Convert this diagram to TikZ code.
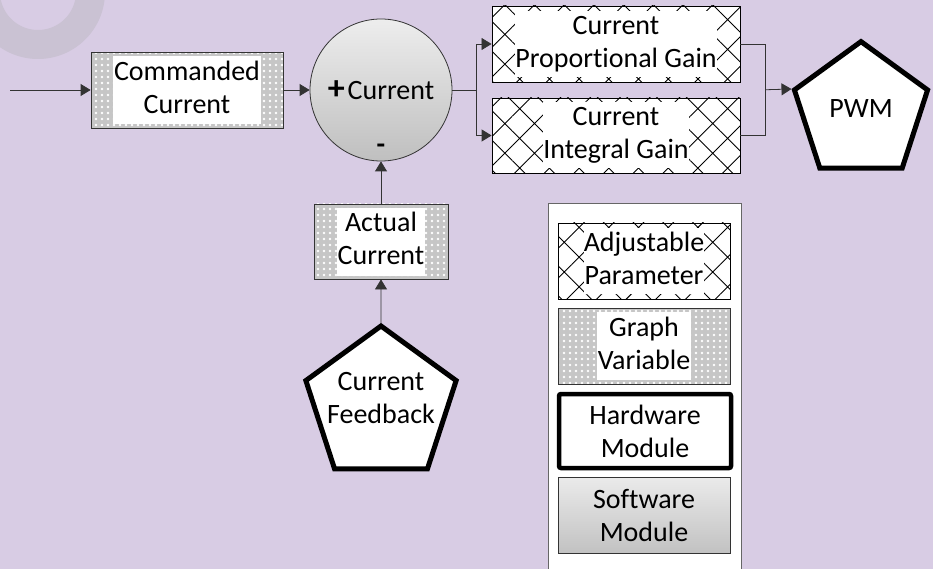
\documentclass[tikz,border=0pt]{standalone}
\usepackage{fontspec}
\setmainfont{Carlito}[Ligatures=NoCommon]
\usepackage{tikz}
\usetikzlibrary{
  calc,              % join point of the two gains
  shapes.geometric,  % pentagons for hardware
  patterns.meta,     % dotted and crossed fillings
  arrows.meta
}
\definecolor{bgcol}{HTML}{D8CCE4}
\definecolor{ringcol}{HTML}{CAC2D3}
\definecolor{gvgray}{HTML}{C6C6C6}
\definecolor{linecol}{HTML}{333333}

% white patch behind the text of a box
\newcommand\gvtext[1]{{\setlength\fboxsep{1pt}\colorbox{white}{\begin{tabular}{@{}c@{}}#1\end{tabular}}}}
\newcommand\adjtext[1]{{\setlength\fboxsep{0pt}\colorbox{white}{\begin{tabular}{@{}c@{}}#1\end{tabular}}}}

\tikzset{
  line/.style={draw=linecol, line width=0.8pt},
  arr/.style={line, -{Triangle[length=10pt,width=12pt]}},
  gvbox/.style={draw=linecol, line width=0.8pt, preaction={fill=gvgray},
    pattern={Dots[radius=1.3pt,distance=6pt]}, pattern color=white,
    minimum width=#1, minimum height=76pt, inner sep=0pt, align=center},
  gvbox/.default=172pt,
  adjbox/.style={draw=black, line width=0.8pt, preaction={fill=white},
    pattern={Hatch[angle=45,distance=21pt,line width=0.9pt]}, pattern color=black,
    minimum width=#1, minimum height=76pt, inner sep=0pt, align=center},
  adjbox/.default=172pt,
  hwbox/.style={draw=black, line width=4.5pt, fill=white, rounded corners=2pt,
    minimum width=172pt, minimum height=74pt, align=center},
  swbox/.style={draw=linecol, line width=0.8pt, top color=black!8, bottom color=black!24,
    minimum width=172pt, minimum height=76pt, align=center},
  hwpent/.style={regular polygon, regular polygon sides=5, draw=black, line width=5pt,
    fill=white, minimum size=#1, inner sep=-30pt, align=center},
}

\begin{document}
\begin{tikzpicture}[x=1pt, y=-1pt, font=\fontsize{28}{33}\selectfont]
  \useasboundingbox (0,0) rectangle (933,569);
  \fill[bgcol] (0,0) rectangle (933,569);
  \fill[ringcol, even odd rule] (38,-8) circle (67pt) (38,-8) circle (38pt);

  % control loop
  \coordinate (in) at (10,90);
  \node[gvbox=192pt] (cmd) at (187,90) {\gvtext{Commanded\\Current}};
  \node[circle, draw=linecol, line width=0.8pt, top color=black!7, bottom color=black!25,
    minimum size=142pt, inner sep=0pt] (sum) at (381,90)
    {{\bfseries\fontsize{34}{33}\selectfont+}\hspace{3pt}Current\hspace{12pt}};
  \node (minus) at ([yshift=13pt]sum.south) {\bfseries -};
  \node[adjbox=248pt] (prop) at (616,44) {\adjtext{Current\\Proportional Gain}};
  \node[adjbox=248pt, minimum height=75pt] (integ) at (616,135.5) {\adjtext{Current\\Integral Gain}};
  \node[hwpent=140pt] (pwm) at (861,111.6) {\raisebox{7pt}{PWM}};
  \node[gvbox=134pt, minimum height=75pt] (actual) at (381,241.5) {\gvtext{Actual\\Current}};
  \node[hwpent=158pt] (fb) at (381,405) {Current\\Feedback\\[-18pt]};

  \draw[arr] (in) -- (cmd);
  \draw[arr] (cmd) -- (sum);
  \draw[line] (sum.east) -- ++(24,0) coordinate (split);
  \draw[arr] (split) |- (prop.west);
  \draw[arr] (split) |- (integ.west);
  \coordinate (join) at ($(prop.east)!0.5!(integ.east)+(25,0)$);
  \draw[line] (prop.east) -| (join) |- (integ.east);
  \draw[arr] (join) -- (pwm.corner 2);
  \draw[arr] (actual) -- (sum);
  \draw[arr] (fb) -- (actual);

  % legend
  \node[draw=black!60, line width=0.8pt, fill=white, minimum width=193pt,
    minimum height=377pt] (legend) at (644.5,391.5) {};
  \node[adjbox] (adj) at (644,261) {\adjtext{Adjustable\\Parameter}};
  \node[gvbox] (gv) at (644,346) {\gvtext{Graph\\Variable}};
  \node[hwbox] (hw) at (645,431) {Hardware\\Module};
  \node[swbox] (sw) at (644,515) {Software\\Module};
\end{tikzpicture}
\end{document}
